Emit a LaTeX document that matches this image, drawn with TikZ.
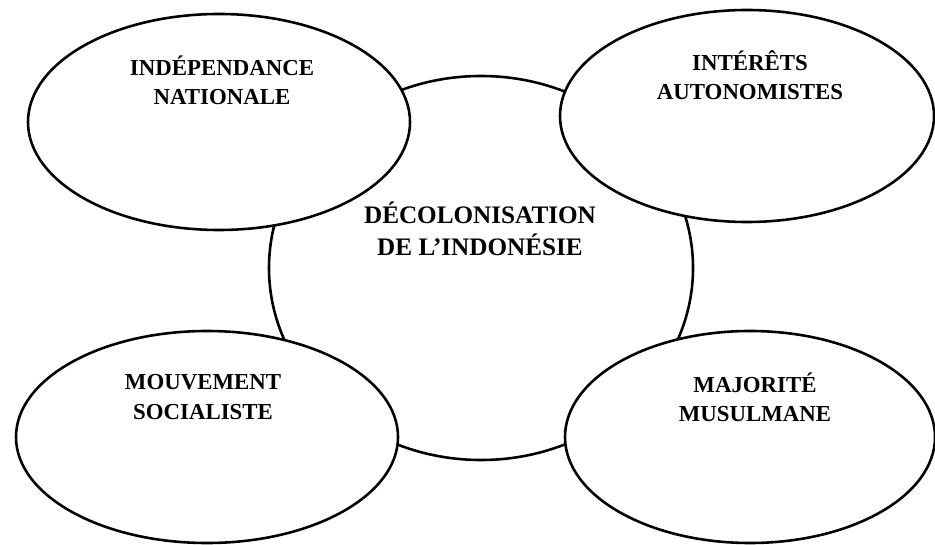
\documentclass[tikz,border=0pt]{standalone}
\usepackage{fontspec}
\setmainfont{Liberation Serif}
\usetikzlibrary{shapes,positioning}
\tikzset{hub node/.style={ellipse,draw,line width=2.2pt,minimum width=12.72cm,minimum height=11.52cm,inner sep=0pt},
            topic node/.style={ellipse,draw,fill=white,line width=2.2pt,minimum height=6.36cm,inner sep=0pt},
            hub text/.style={font=\fontsize{21.5}{27}\selectfont\bfseries,align=center,inner sep=0pt},
            topic text/.style={font=\fontsize{19.5}{25}\selectfont\bfseries,align=center,inner sep=0pt},
            }

\begin{document}
\begin{tikzpicture}[x=0.03cm,y=-0.03cm]

    \useasboundingbox (0,0) rectangle (935,545);

    \node[hub node] (hub) at (481,268) {};

    \node[topic node,minimum width=11.46cm,minimum height=6.48cm] (indep) at (219,122) {};
    \node[topic node,minimum width=11.22cm] (interets) at (747,116) {};
    \node[topic node,minimum width=11.46cm] (mouvement) at (207,437) {};
    \node[topic node,minimum width=11.1cm] (majorite) at (750,437) {};

    \node[hub text] (hub label) at (480,229) {DÉCOLONISATION\\DE L’INDONÉSIE};

    \node[topic text] (indep label) at (222,80) {INDÉPENDANCE\\NATIONALE};
    \node[topic text] (interets label) at (750,75) {INTÉRÊTS\\AUTONOMISTES};
    \node[topic text] (mouvement label) at (203,397) {MOUVEMENT\\SOCIALISTE};
    \node[topic text] (majorite label) at (755,397) {MAJORITÉ\\MUSULMANE};

\end{tikzpicture}
\end{document}
